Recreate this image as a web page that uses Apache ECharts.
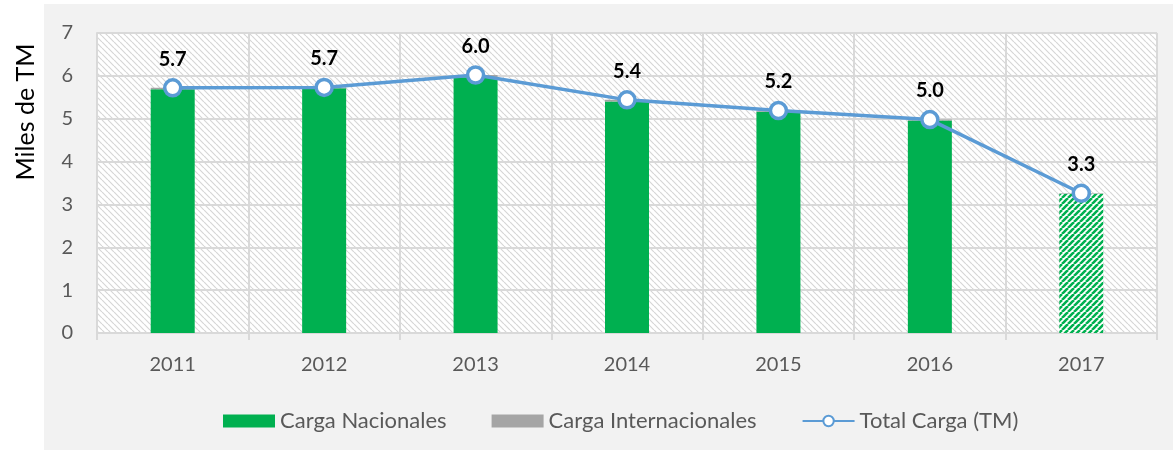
<!DOCTYPE html>
<html>
<head>
<meta charset="utf-8">
<script src="https://cdn.jsdelivr.net/npm/echarts@6/dist/echarts.min.js"></script>
<style>
  html, body { margin: 0; padding: 0; background: #ffffff; }
  #wrap { position: relative; width: 1173px; height: 450px; }
  #bg { position: absolute; left: 44px; top: 4px; width: 1129px; height: 446px; background: #F2F2F2; }
  #chart { position: absolute; left: 0; top: 0; width: 1173px; height: 450px; }
</style>
</head>
<body>
<div id="wrap"><div id="bg"></div><div id="chart"></div></div>
<script>
// ---- data ----
const years = ['2011', '2012', '2013', '2014', '2015', '2016', '2017'];
const cargaNacionales = [5.69, 5.71, 5.97, 5.40, 5.16, 4.96, 3.25];
const cargaInternacionales = [0.03, 0.02, 0.05, 0.04, 0.03, 0.02, 0.01];
const totalCarga = [5.72, 5.73, 6.02, 5.44, 5.19, 4.98, 3.26];
const yTicks = [0, 1, 2, 3, 4, 5, 6, 7];
const hatchedCategories = ['2017'];

// ---- patterns ----
function hatch(size, color, bg, lw, dir) {
  const c = document.createElement('canvas');
  c.width = size; c.height = size;
  const g = c.getContext('2d');
  g.fillStyle = bg; g.fillRect(0, 0, size, size);
  g.strokeStyle = color; g.lineWidth = lw;
  g.beginPath();
  for (const k of [-size, 0, size]) {
    if (dir === 'back') { g.moveTo(k, 0); g.lineTo(k + size, size); }
    else { g.moveTo(k + size, 0); g.lineTo(k, size); }
  }
  g.stroke();
  return { image: c, repeat: 'repeat' };
}
const plotPattern = hatch(6, '#D6D6D6', '#FFFFFF', 1.2, 'back');
const greenPattern = hatch(6, '#00B050', '#FFFFFF', 2.6, 'fwd');

const FONT = 'Lato';
const chart = echarts.init(document.getElementById('chart'), null, { renderer: 'canvas' });
chart.setOption({
  backgroundColor: 'transparent',
  animation: false,
  textStyle: { fontFamily: FONT },
  grid: {
    left: 97, top: 33, right: 16, bottom: 117,
    show: true, backgroundColor: plotPattern, borderWidth: 0
  },
  legend: {
    left: 218, top: 405,
    itemWidth: 52, itemHeight: 13, itemGap: 45,
    textStyle: { color: '#595959', fontSize: 22, fontFamily: FONT },
    data: [
      { name: 'Carga Nacionales', icon: 'rect' },
      { name: 'Carga Internacionales', icon: 'rect' },
      { name: 'Total Carga (TM)' }
    ]
  },
  graphic: [{
    type: 'text',
    x: 26, y: 112, rotation: Math.PI / 2,
    style: {
      text: 'Miles de TM', fill: '#000000', fontSize: 25, fontFamily: FONT,
      align: 'center', verticalAlign: 'middle'
    }
  }],
  xAxis: {
    type: 'category',
    data: years,
    boundaryGap: true,
    axisLine: { show: true, lineStyle: { color: '#D9D9D9', width: 2 } },
    axisTick: { show: true, length: 7, lineStyle: { color: '#D9D9D9', width: 2 } },
    axisLabel: { color: '#595959', fontSize: 20, margin: 22, fontFamily: FONT },
    splitLine: { show: true, lineStyle: { color: '#D9D9D9', width: 2 } }
  },
  yAxis: {
    type: 'value',
    min: yTicks[0], max: yTicks[yTicks.length - 1], interval: 1,
    axisLine: { show: true, lineStyle: { color: '#D9D9D9', width: 2 } },
    axisTick: { show: false },
    axisLabel: { color: '#595959', fontSize: 20, margin: 24, fontFamily: FONT },
    splitLine: { show: true, lineStyle: { color: '#D9D9D9', width: 2 } }
  },
  series: [
    {
      name: 'Carga Nacionales',
      type: 'bar',
      stack: 'carga',
      barWidth: 44,
      itemStyle: { color: '#00B050' },
      data: cargaNacionales.map((v, i) => hatchedCategories.includes(years[i])
        ? { value: v, itemStyle: { color: greenPattern } } : v)
    },
    {
      name: 'Carga Internacionales',
      type: 'bar',
      stack: 'carga',
      barWidth: 44,
      itemStyle: { color: '#A5A5A5' },
      data: cargaInternacionales
    },
    {
      name: 'Total Carga (TM)',
      type: 'line',
      data: totalCarga,
      z: 5,
      symbol: 'circle',
      symbolSize: 16,
      lineStyle: { color: '#5B9BD5', width: 3.5 },
      itemStyle: { color: '#FFFFFF', borderColor: '#5B9BD5', borderWidth: 3.5 },
      label: {
        show: true, position: 'top', distance: 9,
        fontSize: 20, fontWeight: 'bold', color: '#000000', fontFamily: FONT,
        formatter: p => p.value.toFixed(1)
      }
    }
  ]
});
</script>
</body>
</html>
